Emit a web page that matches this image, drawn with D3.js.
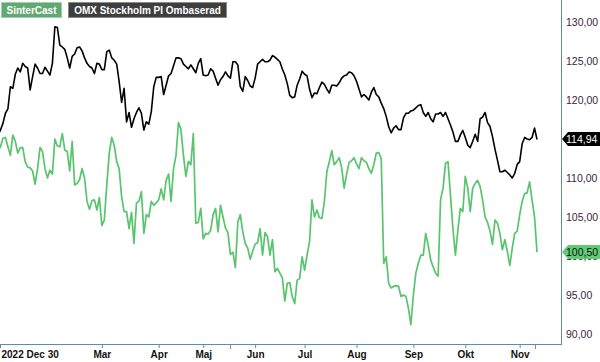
<!DOCTYPE html>
<html>
<head>
<meta charset="utf-8">
<script src="https://cdn.jsdelivr.net/npm/d3@7"></script>
<style>
    body { margin: 0; background: #fff; }
    svg text { font-family: "Liberation Sans", Arial, sans-serif; }
</style>
</head>
<body>
<div id="chart"></div>
<script>

// trading days (weekdays minus Swedish exchange holidays)
let startDay = "2022-12-30";
let endDay = "2023-11-10";
let holidays = ["2023-01-06", "2023-04-07", "2023-04-10", "2023-05-01", "2023-05-18", "2023-06-06", "2023-06-23"];

// one value per trading day
let omxValues = [
    115.5, 116.15, 117.0, 118.3, 118.85, 121.7, 121.5, 123.3, 124.1, 123.6,
    124.7, 124.3, 124.1, 121.3, 123.0, 124.6, 124.1, 123.4, 123.4, 124.2,
    123.7, 123.2, 124.7, 129.4, 129.3, 127.05, 126.8, 126.5, 125.4, 124.1,
    125.6, 125.9, 126.7, 126.8, 126.3, 125.4, 124.7, 124.3, 124.1, 123.4,
    124.7, 124.6, 123.9, 123.9, 126.2, 126.4, 125.4, 125.1, 124.6, 122.35,
    119.7, 121.5, 117.2, 118.4, 116.5, 117.6, 118.4, 119.0, 118.3, 116.15,
    117.2, 116.9, 118.5, 121.7, 122.9, 122.9, 123.0, 120.7, 121.9, 123.1,
    123.4, 124.4, 125.4, 125.4, 125.3, 124.6, 124.3, 124.0, 124.5, 124.0,
    123.5, 124.7, 125.3, 123.2, 123.1, 123.2, 124.0, 123.7, 122.8, 121.9,
    122.6, 123.0, 123.6, 123.1, 122.8, 124.9, 124.9, 124.5, 121.7, 121.1,
    123.0, 122.5, 121.8, 121.6, 122.8, 124.6, 124.9, 125.2, 124.9, 124.9,
    125.1, 125.7, 125.5, 125.2, 124.9, 123.97, 123.2, 122.1, 120.6, 120.3,
    120.4, 121.9, 122.7, 123.7, 123.3, 123.1, 121.4, 120.3, 120.9, 120.8,
    121.6, 122.3, 122.0, 121.4, 120.9, 121.9, 121.9, 121.8, 122.2, 122.8,
    123.1, 123.2, 123.6, 123.5, 123.1, 122.4, 121.4, 120.4, 120.7, 120.4,
    120.0, 121.0, 121.6, 120.7, 120.4, 119.6, 118.9, 117.9, 116.6, 115.8,
    116.4, 116.7, 116.2, 116.2, 117.7, 118.3, 118.3, 118.6, 118.7, 119.0,
    119.3, 119.4, 118.4, 117.9, 118.4, 117.6, 117.2, 118.2, 118.2, 118.4,
    117.9, 118.4, 117.6, 116.8, 115.9, 114.7, 114.7, 115.5, 116.1, 115.2,
    114.2, 113.9, 114.7, 115.6, 114.7, 117.6, 117.8, 118.4, 117.1, 116.6,
    115.3, 113.7, 112.3, 110.8, 110.8, 111.0, 110.7, 110.4, 110.0, 110.6,
    111.75, 112.1, 114.4, 115.2, 115.0, 114.9, 115.2, 116.4, 114.94
];

let sinterValues = [
    113.5, 114.0, 115.1, 115.2, 114.0, 112.9, 115.5, 114.7, 113.2, 113.9,
    113.9, 112.1, 111.4, 111.3, 110.9, 109.2, 111.2, 113.9, 113.4, 111.2,
    110.0, 111.0, 110.5, 115.0, 114.1, 114.0, 115.7, 113.6, 113.4, 110.9,
    114.7, 109.1, 109.3, 109.8, 111.2, 110.0, 107.0, 106.0, 107.1, 107.2,
    105.9, 107.5, 103.9, 104.6, 109.1, 113.2, 115.2, 114.2, 112.1, 111.2,
    107.6, 105.7, 105.7, 103.5, 105.6, 101.6, 106.8, 107.0, 108.25, 102.9,
    105.3, 105.0, 107.0, 106.5, 106.8, 107.2, 108.6, 107.2, 109.7, 110.5,
    107.0, 111.2, 112.9, 117.1, 116.2, 112.9, 110.2, 112.1, 111.7, 115.7,
    104.2, 104.3, 106.1, 102.2, 102.9, 102.8, 103.3, 105.3, 106.1, 103.1,
    106.5, 105.0, 103.6, 103.0, 100.2, 100.5, 98.5, 104.4, 105.3, 103.1,
    101.6, 101.0, 99.6, 100.6, 101.5, 101.7, 103.5, 100.1, 103.0, 102.5,
    100.1, 102.1, 98.0, 98.4, 97.8, 97.2, 94.2, 96.5, 96.6, 94.8,
    93.9, 96.9, 97.1, 99.9, 98.2, 100.1, 101.8, 107.2, 105.0, 105.9,
    104.9, 104.8, 107.0, 110.8, 112.1, 113.5, 111.7, 112.1, 112.6, 111.3,
    108.7, 110.5, 112.0, 112.2, 112.6, 111.8, 111.2, 112.6, 112.2, 112.0,
    111.2, 110.6, 111.7, 113.2, 113.25, 112.5, 99.06, 99.9, 96.5, 95.9,
    96.1, 96.2, 96.1, 94.8, 95.0, 94.8, 93.3, 91.2, 95.0, 97.8,
    99.06, 100.1, 100.1, 102.9, 101.4, 99.5, 98.6, 97.8, 97.4, 107.2,
    108.7, 111.9, 112.1, 107.8, 103.5, 100.1, 103.3, 106.1, 105.7, 110.2,
    108.7, 105.7, 108.7, 109.3, 109.7, 108.9, 107.2, 105.0, 104.3, 103.2,
    101.5, 104.6, 104.2, 102.9, 100.8, 102.1, 100.6, 98.8, 101.0, 102.9,
    103.2, 105.3, 107.0, 108.0, 108.1, 109.5, 107.2, 105.0, 100.5
];

// month ticks on the x axis
let monthTicks = ["2022-12-30", "2023-03-01", "2023-04-03", "2023-05-02", "2023-06-01",
    "2023-07-03", "2023-08-01", "2023-09-01", "2023-10-02", "2023-11-01"];
let monthLabels = ["2022 Dec 30", "Mar", "Apr", "Maj", "Jun", "Jul", "Aug", "Sep", "Okt", "Nov"];
let eventDays = ["2023-05-17", "2023-11-09"];

let yTicks = [90, 95, 100, 105, 110, 115, 120, 125, 130];

let seriesNames = ["SinterCast", "OMX Stockholm PI Ombaserad"];

let parseDay = d3.timeParse("%Y-%m-%d");
let fmtDay = d3.timeFormat("%Y-%m-%d");

let tradingDays = d3.timeDay.range(parseDay(startDay), d3.timeDay.offset(parseDay(endDay), 1))
    .filter(d => d.getDay() !== 0 && d.getDay() !== 6)
    .map(fmtDay)
    .filter(d => holidays.indexOf(d) < 0);

let dayIndex = d => tradingDays.indexOf(d);

let width = 600, height = 362;
let plotRight = 561, plotBottom = 344;

let svg = d3.select("#chart").append("svg")
    .attr("width", width)
    .attr("height", height);

let x = d3.scaleLinear()
    .domain([0, tradingDays.length - 1])
    .range([-2, 537]);

let y = d3.scaleLinear()
    .domain([90, 130])
    .range([334, 22]);

svg.append("clipPath")
    .attr("id", "plotClip")
    .append("rect")
    .attr("x", 0).attr("y", 0)
    .attr("width", plotRight).attr("height", plotBottom);

let line = d3.line()
    .x((d, i) => x(i))
    .y(d => y(d));

let plot = svg.append("g").attr("clip-path", "url(#plotClip)");

plot.append("path")
    .datum(sinterValues)
    .attr("fill", "none")
    .attr("stroke", "#58c46e")
    .attr("stroke-width", 1.7)
    .attr("stroke-linejoin", "round")
    .attr("d", line);

plot.append("path")
    .datum(omxValues)
    .attr("fill", "none")
    .attr("stroke", "#000")
    .attr("stroke-width", 1.6)
    .attr("stroke-linejoin", "round")
    .attr("d", line);

// frame: bottom and right
let axisColor = "#5a8db0";

let xAxis = d3.axisBottom(x)
    .tickValues(monthTicks.map(dayIndex))
    .tickSize(4)
    .tickPadding(3)
    .tickFormat((d, i) => monthLabels[i]);

let gx = svg.append("g")
    .attr("transform", "translate(0," + plotBottom + ")")
    .call(xAxis);

gx.select(".domain").remove();
gx.selectAll(".tick line").attr("stroke", axisColor);
gx.selectAll(".tick text")
    .attr("fill", "#111")
    .attr("font-size", 10)
    .attr("font-weight", "bold");

// first label sits against the left edge
gx.selectAll(".tick").filter((d, i) => i === 0)
    .attr("transform", "translate(0.5,0)")
    .select("text")
    .attr("text-anchor", "start")
    .attr("x", 1);

gx.selectAll(".event")
    .data(eventDays)
    .enter()
    .append("line")
    .attr("class", "event")
    .attr("x1", d => Math.round(x(dayIndex(d))) + 0.5)
    .attr("x2", d => Math.round(x(dayIndex(d))) + 0.5)
    .attr("y1", 0)
    .attr("y2", 5)
    .attr("stroke", "#f06060");

svg.append("line")
    .attr("x1", 0).attr("x2", plotRight)
    .attr("y1", plotBottom + 0.5).attr("y2", plotBottom + 0.5)
    .attr("stroke", axisColor);

svg.append("line")
    .attr("x1", plotRight + 0.5).attr("x2", plotRight + 0.5)
    .attr("y1", 0).attr("y2", plotBottom + 1)
    .attr("stroke", axisColor);

let yAxis = d3.axisRight(y)
    .tickValues(yTicks)
    .tickSize(0)
    .tickPadding(5)
    .tickFormat(d => d3.format(".2f")(d).replace(".", ","));

let gy = svg.append("g")
    .attr("transform", "translate(" + plotRight + ",0)")
    .call(yAxis);

gy.select(".domain").remove();
gy.selectAll(".tick text")
    .attr("fill", "#3a2440")
    .attr("font-size", 10.5);

// last-value tags
let lastTags = [
    {value: omxValues[omxValues.length - 1], fill: "#000", text: "#fff"},
    {value: sinterValues[sinterValues.length - 1], fill: "#5fcc75", text: "#111"}
];

let tag = svg.selectAll(".lastTag")
    .data(lastTags)
    .enter()
    .append("g")
    .attr("class", "lastTag")
    .attr("transform", d => "translate(" + (plotRight + 1) + "," + Math.round(y(d.value)) + ")");

tag.append("path")
    .attr("d", "M0,0L6,-7L39,-7L39,7L6,7Z")
    .attr("fill", d => d.fill);

tag.append("text")
    .attr("x", 4)
    .attr("y", 4)
    .attr("font-size", 10.5)
    .attr("fill", d => d.text)
    .text(d => d3.format(".2f")(d.value).replace(".", ","));

// legend
let legendBoxes = [
    {x: 1, w: 60, fill: "#62a874", stroke: "#9fd0aa"},
    {x: 68, w: 158, fill: "#3e3e3e", stroke: "#8a8a8a"}
];

let legend = svg.selectAll(".legendItem")
    .data(seriesNames)
    .enter()
    .append("g")
    .attr("class", "legendItem");

legend.append("rect")
    .attr("x", (d, i) => legendBoxes[i].x + 0.5)
    .attr("y", 2.5)
    .attr("width", (d, i) => legendBoxes[i].w)
    .attr("height", 15)
    .attr("fill", (d, i) => legendBoxes[i].fill)
    .attr("stroke", (d, i) => legendBoxes[i].stroke);

legend.append("text")
    .attr("x", (d, i) => legendBoxes[i].x + legendBoxes[i].w / 2 + 0.5)
    .attr("y", 13.5)
    .attr("text-anchor", "middle")
    .attr("font-size", 10)
    .attr("font-weight", "bold")
    .attr("fill", "#fff")
    .text(d => d);

</script>
</body>
</html>
